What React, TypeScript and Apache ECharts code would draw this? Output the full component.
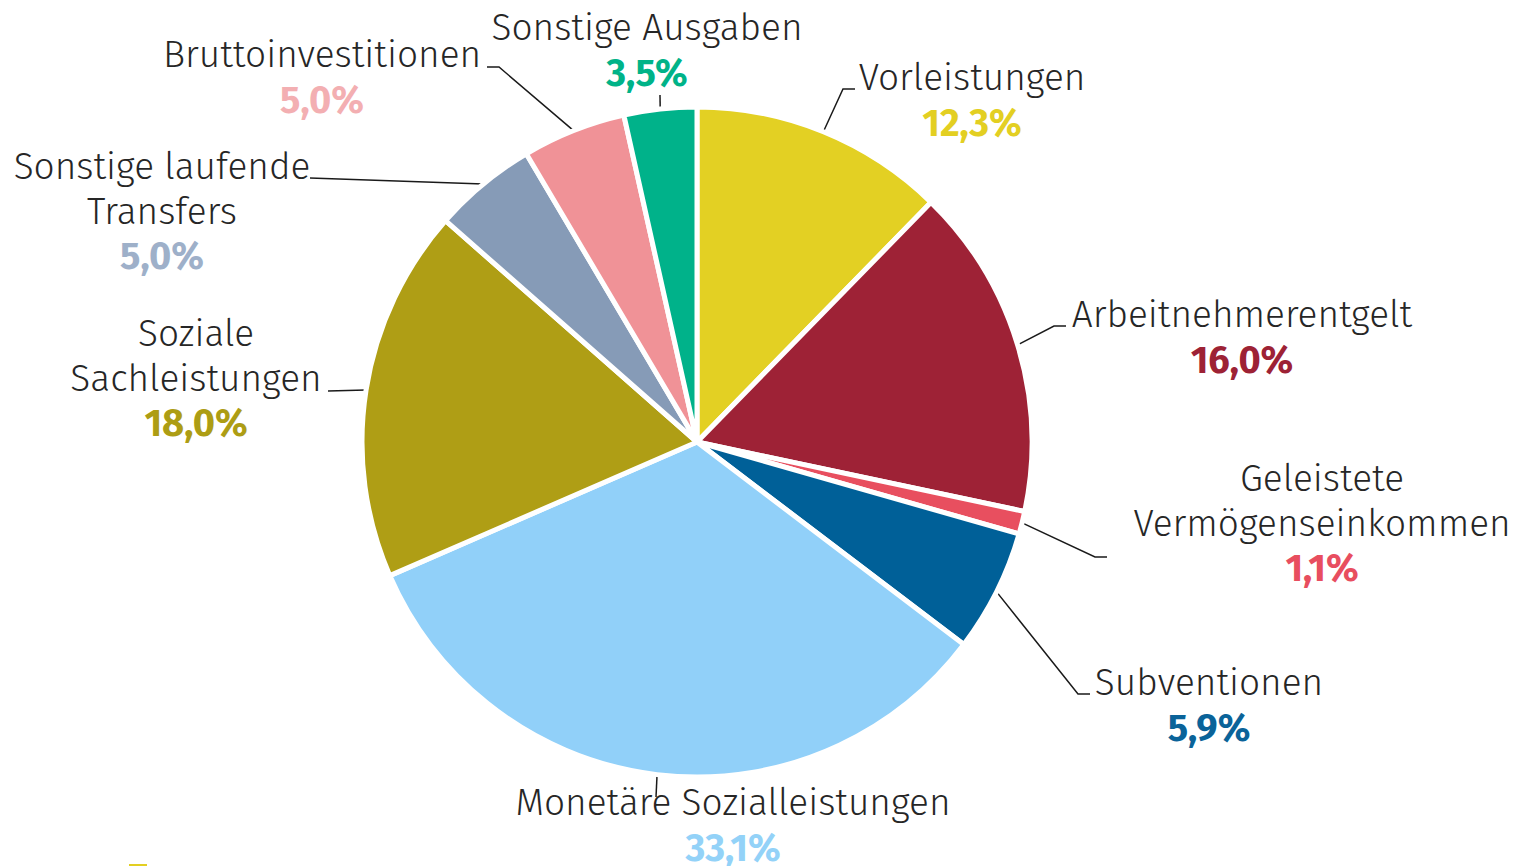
import React, { useEffect, useRef } from 'react';
import * as echarts from 'echarts';

// ---- data ----
const categories = [
  'Vorleistungen',
  'Arbeitnehmerentgelt',
  'Geleistete\nVermögenseinkommen',
  'Subventionen',
  'Monetäre Sozialleistungen',
  'Soziale\nSachleistungen',
  'Sonstige laufende\nTransfers',
  'Bruttoinvestitionen',
  'Sonstige Ausgaben',
];
const shares = [12.3, 16.0, 1.1, 5.9, 33.1, 18.0, 5.0, 5.0, 3.5];

// ---- styles ----
const sliceColors = ['#E3D023', '#9E2236', '#E84F5F', '#006098', '#91D0F9', '#AF9E15', '#869BB7', '#F09297', '#00B28A'];
const valueColors = ['#E3CF22', '#9D2235', '#E84E5F', '#0A6399', '#93D2F8', '#AD9D14', '#9EB0C9', '#F3AFB2', '#00B388'];

// label block centres and leader-line routing (layout only)
const labelPlacement: { x: number; y: number; bend?: number[]; end: number[] }[] = [
  { x: 972, y: 100, bend: [843, 89], end: [855, 89] },
  { x: 1242, y: 337, bend: [1054, 326], end: [1066, 326] },
  { x: 1322, y: 523, bend: [1095, 557], end: [1107, 557] },
  { x: 1209, y: 705, bend: [1078, 694], end: [1090, 694] },
  { x: 733, y: 825, end: [656, 797] },
  { x: 196, y: 378, end: [328, 391] },
  { x: 162, y: 211, end: [310, 178] },
  { x: 322, y: 77, bend: [499, 67], end: [487, 67] },
  { x: 647, y: 50, end: [660, 95] },
];

const FONT = '"Fira Sans", "Open Sans", "Noto Sans", sans-serif';

const fmt = (v: number) => v.toFixed(1).replace('.', ',') + '%';

export default function App() {
  const ref = useRef<HTMLDivElement>(null);
  useEffect(() => {
    if (!ref.current) return;
    const chart = echarts.init(ref.current, null, { renderer: 'svg' });
    const data = categories.map((name, i) => ({
      name,
      value: shares[i],
      itemStyle: { color: sliceColors[i] },
      label: { rich: { v: { color: valueColors[i] } } },
    }));
    chart.setOption({
      animation: false,
      backgroundColor: '#ffffff',
      graphic: [
        { type: 'rect', left: 129, top: 864, shape: { width: 18, height: 2 }, style: { fill: '#E3CF22' } },
      ],
      series: [
        {
          type: 'pie',
          center: [697, 442],
          radius: 335,
          startAngle: 90,
          clockwise: true,
          avoidLabelOverlap: false,
          itemStyle: { borderColor: '#ffffff', borderWidth: 5 },
          label: {
            show: true,
            position: 'outside',
            fontFamily: FONT,
            formatter: (p: any) => {
              const lines = String(p.name).split('\n').map((l: string) => `{n|${l}}`);
              return lines.join('\n') + `\n{v|${fmt(p.value)}}`;
            },
            rich: {
              n: { fontFamily: FONT, fontSize: 37, fontWeight: 300, lineHeight: 45, color: '#262626', align: 'center' },
              v: { fontFamily: FONT, fontSize: 38, fontWeight: 700, lineHeight: 45, align: 'center' },
            },
          },
          labelLine: {
            show: true,
            length: 20,
            length2: 12,
            smooth: false,
            lineStyle: { color: '#1a1a1a', width: 1.5 },
          },
          labelLayout: (params: any) => {
            const p = labelPlacement[params.dataIndex];
            const start = params.labelLinePoints ? params.labelLinePoints[0] : p.end;
            const pts = p.bend ? [start, p.bend, p.end] : [start, p.end, p.end];
            return {
              x: p.x,
              y: p.y,
              align: 'center',
              verticalAlign: 'middle',
              labelLinePoints: pts,
            };
          },
          emphasis: { disabled: true },
          data,
        },
      ],
    });
    return () => chart.dispose();
  }, []);
  return <div ref={ref} style={{ position: 'absolute', left: 0, top: 0, width: 1517, height: 866 }} />;
}
